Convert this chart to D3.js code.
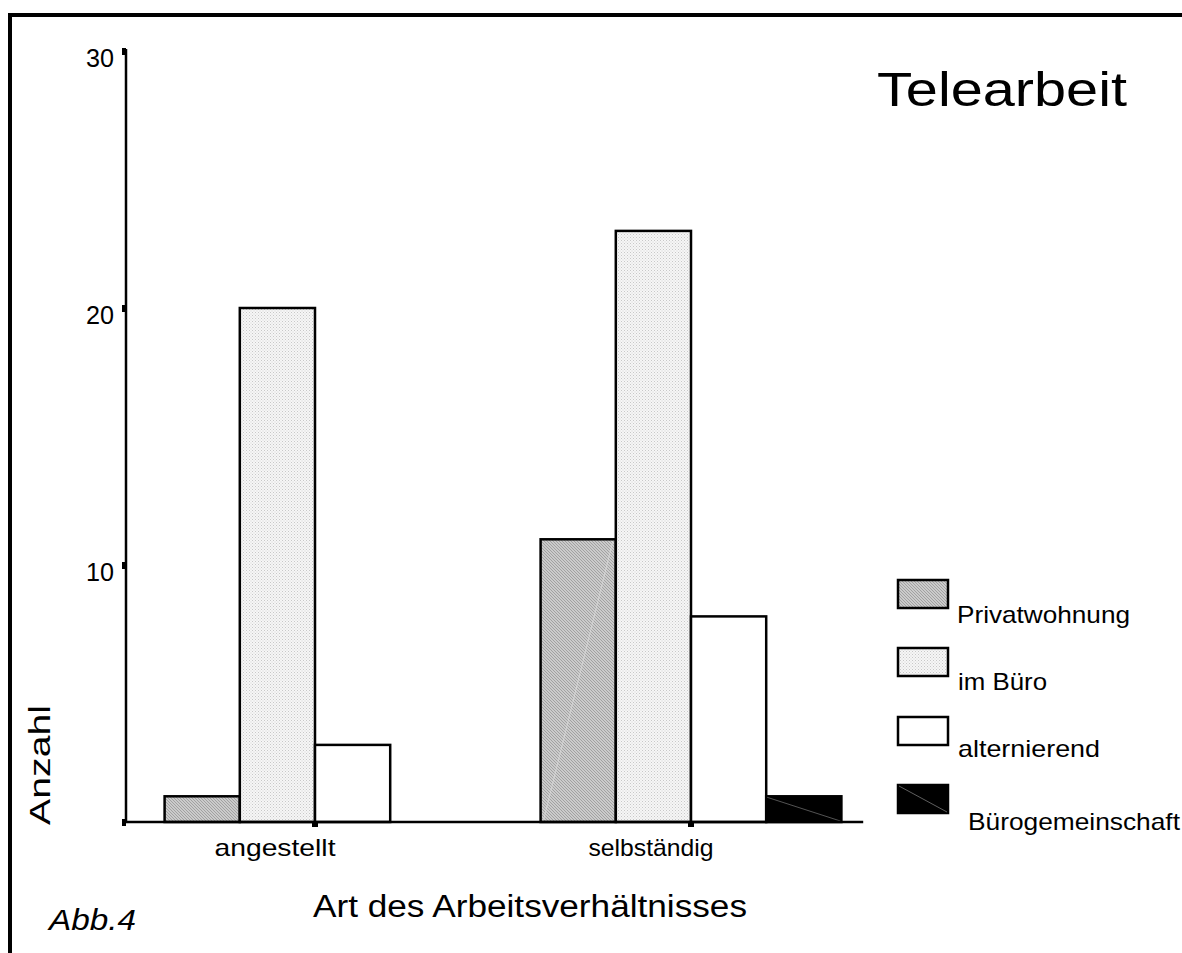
<!DOCTYPE html>
<html>
<head>
<meta charset="utf-8">
<script src="https://cdn.jsdelivr.net/npm/d3@7"></script>
<style>
  html, body { margin: 0; padding: 0; background: #fff; overflow: hidden; }
  svg { display: block; font-family: "Liberation Sans", Arial, sans-serif; }
</style>
</head>
<body>
<svg id="chart" width="1182" height="953"></svg>
<script>
// ---- data ----
const categories = ["angestellt", "selbständig"];
const seriesNames = ["Privatwohnung", "im Büro", "alternierend", "Bürogemeinschaft"];
const privatwohnung = [1, 11];
const imBuero = [20, 23];
const alternierend = [3, 8];
const buerogemeinschaft = [0, 1];
const yTicks = [0, 10, 20, 30];
const yTickLabels = ["", "10", "20", "30"];
const titleText = "Telearbeit";
const xTitle = "Art des Arbeitsverhältnisses";
const yTitle = "Anzahl";
const figLabel = "Abb.4";

const seriesValues = [privatwohnung, imBuero, alternierend, buerogemeinschaft];
const fills = ["url(#hatch)", "url(#dots)", "#ffffff", "#000000"];

const svg = d3.select("#chart");

// ---- patterns ----
const defs = svg.append("defs");
const hatch = defs.append("pattern").attr("id", "hatch")
  .attr("patternUnits", "userSpaceOnUse").attr("width", 3).attr("height", 3);
hatch.append("rect").attr("width", 3).attr("height", 3).attr("fill", "#cbcbcb");
hatch.append("path").attr("d", "M0,0 L3,3 M-1,2 L1,4 M2,-1 L4,1")
  .attr("stroke", "#979797").attr("stroke-width", 0.8);

const dots = defs.append("pattern").attr("id", "dots")
  .attr("patternUnits", "userSpaceOnUse").attr("width", 3).attr("height", 3);
dots.append("rect").attr("width", 3).attr("height", 3).attr("fill", "#f6f6f6");
dots.append("rect").attr("x", 0).attr("y", 0).attr("width", 1).attr("height", 1).attr("fill", "#c8c8c8");
dots.append("rect").attr("x", 1.5).attr("y", 1.5).attr("width", 1).attr("height", 1).attr("fill", "#d4d4d4");

// ---- frame ----
svg.append("rect").attr("x", 10).attr("y", 15).attr("width", 1300).attr("height", 1100)
  .attr("fill", "none").attr("stroke", "#000").attr("stroke-width", 4);

// ---- scales ----
const x0 = d3.scaleBand().domain(categories).range([127, 879])
  .paddingInner(0.2).paddingOuter(0.1);
const x1 = d3.scaleBand().domain(seriesNames).range([0, x0.bandwidth()]);
const y = d3.scaleLinear().domain([0, 30]).range([822, 51]);

// ---- bars ----
const barData = [];
categories.forEach((c, ci) => {
  seriesNames.forEach((s, si) => {
    barData.push({ cat: c, ser: s, si, v: seriesValues[si][ci] });
  });
});

const bars = svg.append("g").attr("class", "bars");
bars.selectAll("rect").data(barData.filter(d => d.v > 0)).join("rect")
  .attr("x", d => x0(d.cat) + x1(d.ser))
  .attr("y", d => y(d.v))
  .attr("width", x1.bandwidth())
  .attr("height", d => y(0) - y(d.v))
  .attr("fill", d => fills[d.si])
  .attr("stroke", "#000")
  .attr("stroke-width", 2.5);

// thin diagonal artefacts seen in the original rendering
bars.selectAll("line.diag").data(barData.filter(d => d.v > 0 && (d.si === 3 || (d.si === 0 && d.v > 5)))).join("line")
  .attr("class", "diag")
  .attr("x1", d => x0(d.cat) + x1(d.ser) + (d.si === 3 ? 1 : 3))
  .attr("y1", d => d.si === 3 ? y(d.v) + 1 : y(0) - 2)
  .attr("x2", d => x0(d.cat) + x1(d.ser) + x1.bandwidth() - (d.si === 3 ? 1 : 3))
  .attr("y2", d => d.si === 3 ? y(0) - 1 : y(d.v) + 2)
  .attr("stroke", d => d.si === 3 ? "#777" : "#dedede")
  .attr("stroke-width", 0.7);

// ---- y axis ----
const yAxis = svg.append("g").attr("transform", "translate(126,0)")
  .call(d3.axisLeft(y).tickValues(yTicks).tickSize(4).tickSizeOuter(0)
    .tickFormat((d, i) => yTickLabels[i]));
yAxis.select(".domain").attr("stroke-width", 2.5)
  .attr("d", `M0,${y(30) - 2}V${y(0) + 1}`);
yAxis.selectAll(".tick line").attr("stroke-width", 7);
yAxis.selectAll(".tick text")
  .attr("x", -12).attr("dy", "15px")
  .attr("font-size", 25).attr("font-family", "Liberation Sans, Arial, sans-serif")
  .attr("fill", "#000")
  .attr("textLength", 28).attr("lengthAdjust", "spacingAndGlyphs");

// ---- x axis (baseline + ticks) ----
const lastCat = categories[categories.length - 1];
const xEnd = x0(lastCat) + x0.bandwidth() + x0.step() * 0.058;
const xAxis = svg.append("g").attr("transform", `translate(0,${y(0)})`)
  .call(d3.axisBottom(x0).tickSize(5).tickSizeOuter(0).tickFormat(""));
xAxis.select(".domain").attr("d", `M${x0.range()[0] - 1},0H${xEnd}`).attr("stroke-width", 2.5);
xAxis.selectAll(".tick line").attr("stroke-width", 6);

// category labels
const catWidths = [121, 125];
svg.append("g").selectAll("text").data(categories).join("text")
  .attr("x", d => x0(d) + x0.bandwidth() / 2 - 40)
  .attr("y", 856)
  .attr("text-anchor", "middle")
  .attr("font-size", 24)
  .attr("textLength", (d, i) => catWidths[i]).attr("lengthAdjust", "spacingAndGlyphs")
  .text(d => d);

// ---- titles ----
svg.append("text").attr("x", 313).attr("y", 917).attr("font-size", 31)
  .attr("textLength", 434).attr("lengthAdjust", "spacingAndGlyphs").text(xTitle);

svg.append("text").attr("transform", "translate(50,825) rotate(-90)")
  .attr("font-size", 29)
  .attr("textLength", 120).attr("lengthAdjust", "spacingAndGlyphs").text(yTitle);

svg.append("text").attr("x", 877).attr("y", 106).attr("font-size", 49)
  .attr("textLength", 250).attr("lengthAdjust", "spacingAndGlyphs").text(titleText);

svg.append("text").attr("x", 49).attr("y", 930).attr("font-size", 30)
  .attr("font-style", "italic")
  .attr("textLength", 87).attr("lengthAdjust", "spacingAndGlyphs").text(figLabel);

// ---- legend ----
const legendBoxY = [580, 648, 717, 785];
const legendTextX = [957, 958, 958, 968];
const legendTextY = [623, 690, 757, 830];
const legendTextW = [173, 89, 142, 212];
const legend = svg.append("g").attr("class", "legend");
seriesNames.forEach((s, i) => {
  legend.append("rect").attr("x", 898).attr("y", legendBoxY[i])
    .attr("width", 50).attr("height", 28)
    .attr("fill", fills[i]).attr("stroke", "#000").attr("stroke-width", 2.5);
  if (i === 3) {
    legend.append("line").attr("x1", 899).attr("y1", legendBoxY[i] + 1)
      .attr("x2", 947).attr("y2", legendBoxY[i] + 27)
      .attr("stroke", "#777").attr("stroke-width", 0.8);
  }
  legend.append("text").attr("x", legendTextX[i]).attr("y", legendTextY[i])
    .attr("font-size", 24)
    .attr("textLength", legendTextW[i]).attr("lengthAdjust", "spacingAndGlyphs")
    .text(s);
});
</script>
</body>
</html>
